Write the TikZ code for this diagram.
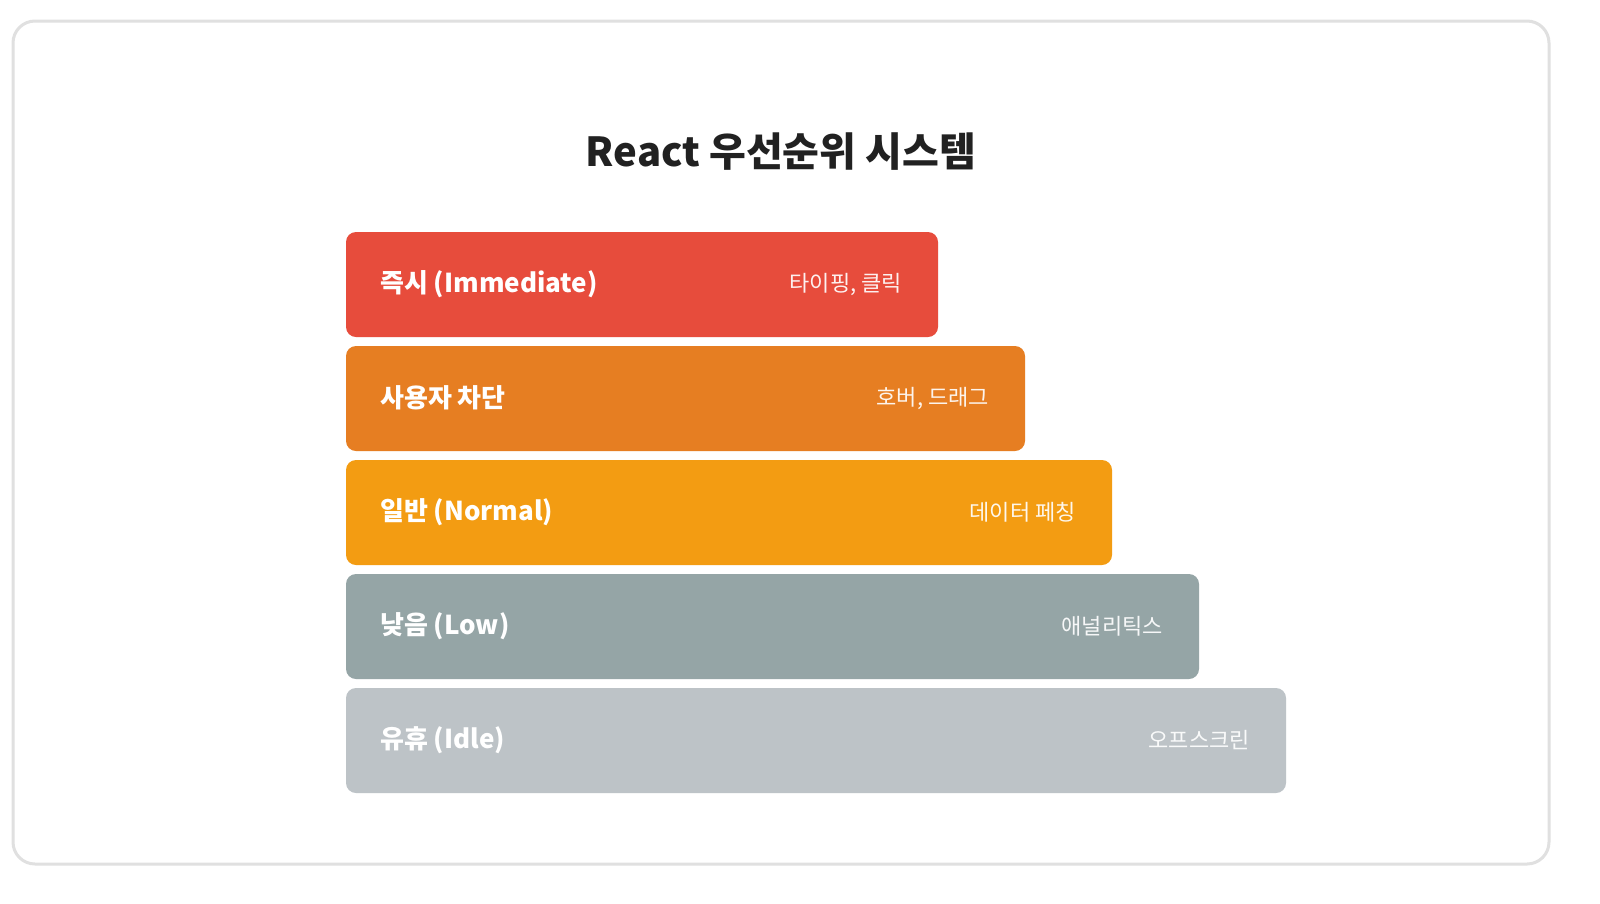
\documentclass[tikz,border=0pt]{standalone}
\usepackage{fontspec}
\setmainfont{Noto Sans CJK KR}
\begin{document}
\begin{tikzpicture}[x=1pt,y=-1pt,
  bar/.style={rounded corners=10pt, draw=none},
  lbl/.style={anchor=west, text=white, font=\fontsize{26}{30}\selectfont\bfseries, inner sep=0pt},
  rlbl/.style={anchor=east, text=white, text opacity=0.92, font=\fontsize{22}{26}\selectfont, inner sep=0pt}]
\definecolor{cred}{HTML}{E74C3C}
\definecolor{corange}{HTML}{E67E22}
\definecolor{cyellow}{HTML}{F39C12}
\definecolor{cgray}{HTML}{95A5A6}
\definecolor{clight}{HTML}{BDC3C7}
\useasboundingbox (0,0) rectangle (1600,903);
\fill[white] (0,0) rectangle (1600,903);
\draw[line width=3pt, draw=black!12, rounded corners=22pt] (13,21) rectangle (1549,864);
\node[font=\fontsize{40}{46}\selectfont\bfseries, text=black!87, inner sep=0pt] (title) at (781,152) {React 우선순위 시스템};
\foreach \i/\r/\c/\a/\b in {0/938/cred/{즉시 (Immediate)}/{타이핑, 클릭},
  1/1025/corange/{사용자 차단}/{호버, 드래그},
  2/1112/cyellow/{일반 (Normal)}/{데이터 페칭},
  3/1199/cgray/{낮음 (Low)}/{애널리틱스},
  4/1286/clight/{유휴 (Idle)}/{오프스크린}} {
  \pgfmathsetmacro{\t}{232+114*\i}
  \fill[bar, fill=\c] (346,\t) rectangle (\r,\t+105);
  \node[lbl] (l\i) at (380,\t+52) {\a};
  \node[rlbl] (r\i) at (\r-36,\t+52) {\b};
}
\end{tikzpicture}
\end{document}
